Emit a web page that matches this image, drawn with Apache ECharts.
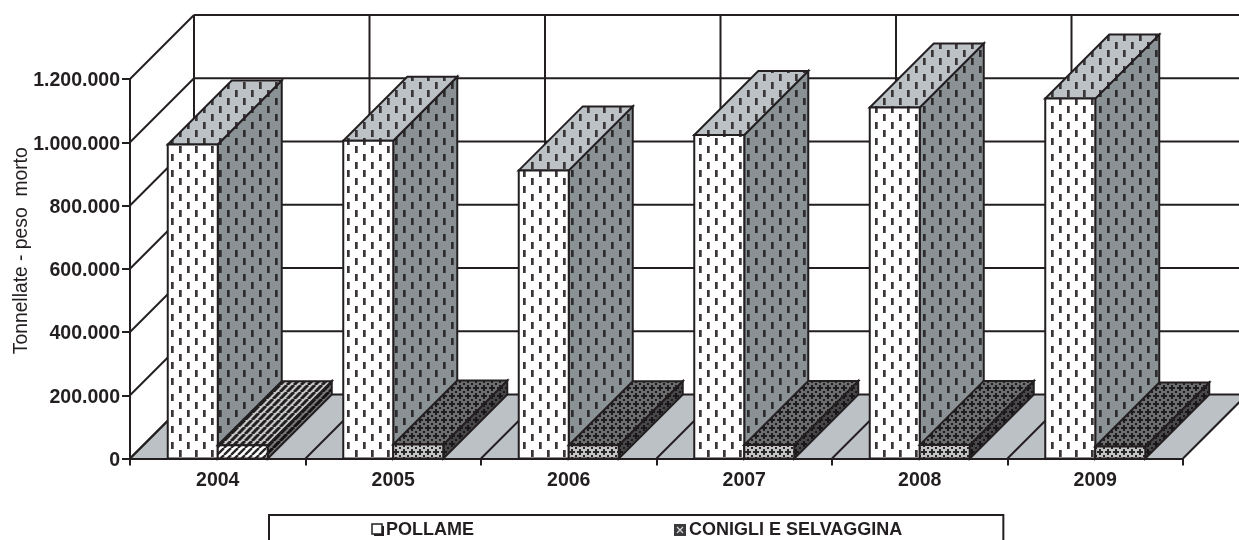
<!DOCTYPE html>
<html>
<head>
<meta charset="utf-8">
<style>html,body{margin:0;padding:0;background:#fff;overflow:hidden}#c{width:1239px;height:540px}</style>
<script src="https://cdn.jsdelivr.net/npm/echarts@6/dist/echarts.min.js"></script>
</head>
<body>
<div id="c"></div>
<script>
const categories = ['2004','2005','2006','2007','2008','2009'];
const pollame = [993000,1005000,911000,1023000,1110000,1138000];
const conigli = [42000,44000,42000,43000,43000,38000];
const yTicks = [0,200000,400000,600000,800000,1000000,1200000];
const seriesNames = ['POLLAME','CONIGLI E SELVAGGINA'];
const axisTitle = 'Tonnellate - peso  morto';

const INK = '#231f20', DEPTH = 64, BAR_FRACTION = 50/175.5, LW = 2;

function tile(w,h,bg,draw){
  const c=document.createElement('canvas');c.width=w;c.height=h;
  const g=c.getContext('2d');g.fillStyle=bg;g.fillRect(0,0,w,h);draw(g);return c;
}
function pat(c){return {image:c,repeat:'repeat'};}
function dashes(bg,col){
  return pat(tile(16,16,bg,g=>{g.fillStyle=col;
    g.fillRect(3,2,2.7,7);
    g.fillRect(11,10,2.7,6);g.fillRect(11,0,2.7,1);}));
}
function stripes(bg,col,lw){
  return pat(tile(7,7,bg,g=>{g.strokeStyle=col;g.lineWidth=lw;
    for(let k=-7;k<=14;k+=7){g.beginPath();g.moveTo(k,7);g.lineTo(k+7,0);g.stroke();}}));
}
function weave(bg,col){
  return pat(tile(8,8,bg,g=>{g.fillStyle=col;
    g.fillRect(3,1,2,6);g.fillRect(1,3,6,2);
    g.fillRect(0,0,1,1);g.fillRect(7,0,1,1);g.fillRect(0,7,1,1);g.fillRect(7,7,1,1);}));
}
const pollFaces = {front:dashes('#ffffff','#3a3637'),top:dashes('#bcc1c6','#3a3637'),side:dashes('#8a9296','#2e2b2c')};
const weaveFaces = {front:weave('#c4c4c4','#2a2728'),top:weave('#6c6d6f','#1f1c1d'),side:weave('#48484a','#1a1718')};
const stripeFaces = {front:stripes('#ffffff','#2a2728',2.4),top:stripes('#c6c6c6','#232021',3),side:stripes('#767676','#151213',3)};

function icon(draw){
  const c=document.createElement('canvas');c.width=14;c.height=14;
  const g=c.getContext('2d');draw(g);return 'image://'+c.toDataURL();
}
const iconPoll = icon(g=>{g.strokeStyle=INK;g.lineWidth=1.5;g.fillStyle='#fff';
  g.strokeRect(1,1,10,10);g.fillStyle=INK;g.fillRect(11,3,2,10);g.fillRect(3,11,10,2);});
const iconCon = icon(g=>{g.fillStyle='#3a3a3c';g.fillRect(0,1,12,12);
  g.strokeStyle='#d8d8d8';g.lineWidth=1.3;g.beginPath();g.moveTo(3,4);g.lineTo(9,10);g.moveTo(9,4);g.lineTo(3,10);g.stroke();});

function box(x0,x1,yTop,yBot,faces){
  const st=f=>({fill:f,stroke:INK,lineWidth:LW,lineJoin:'miter'});
  return [
    {type:'polygon',shape:{points:[[x1,yTop],[x1+DEPTH,yTop-DEPTH],[x1+DEPTH,yBot-DEPTH],[x1,yBot]]},style:st(faces.side)},
    {type:'polygon',shape:{points:[[x0,yTop],[x1,yTop],[x1+DEPTH,yTop-DEPTH],[x0+DEPTH,yTop-DEPTH]]},style:st(faces.top)},
    {type:'polygon',shape:{points:[[x0,yTop],[x1,yTop],[x1,yBot],[x0,yBot]]},style:st(faces.front)}
  ];
}
function line(a,b){return {type:'line',shape:{x1:a[0],y1:a[1],x2:b[0],y2:b[1]},style:{stroke:INK,lineWidth:LW}};}

function renderWalls(params,api){
  const band=api.size([1,0])[0];
  const y0=api.coord([0,0])[1], yT=api.coord([0,yTicks[yTicks.length-1]])[1];
  const xL=api.coord([0,0])[0]-band/2, xR=xL+band*categories.length;
  const kids=[{type:'polygon',shape:{points:[[xL,y0],[xR,y0],[xR+DEPTH,y0-DEPTH],[xL+DEPTH,y0-DEPTH]]},style:{fill:'#bcc1c6'}}];
  yTicks.forEach(v=>{const y=api.coord([0,v])[1];
    kids.push(line([xL,y],[xL+DEPTH,y-DEPTH]));
    kids.push(line([xL+DEPTH,y-DEPTH],[xR+DEPTH,y-DEPTH]));});
  for(let i=0;i<=categories.length;i++){const x=xL+band*i;
    kids.push(line([x+DEPTH,y0-DEPTH],[x+DEPTH,yT-DEPTH]));
    kids.push(line([x,y0],[x+DEPTH,y0-DEPTH]));}
  return {type:'group',children:kids};
}
function renderPollame(params,api){
  const c=api.coord([api.value(0),api.value(1)]),b=api.coord([api.value(0),0]);
  const w=api.size([1,0])[0]*BAR_FRACTION;
  return {type:'group',children:box(c[0]-w,c[0],c[1],b[1],pollFaces)};
}
function renderConigli(params,api){
  const c=api.coord([api.value(0),api.value(1)]),b=api.coord([api.value(0),0]);
  const w=api.size([1,0])[0]*BAR_FRACTION;
  const faces=params.dataIndex===0?stripeFaces:weaveFaces;
  return {type:'group',children:box(c[0],c[0]+w,c[1],b[1],faces)};
}
const txt={fontFamily:'"Liberation Sans",Arial,sans-serif',color:INK};
const chart=echarts.init(document.getElementById('c'),null,{renderer:'canvas'});
chart.setOption({
  animation:false,backgroundColor:'#fff',
  grid:{left:130,right:56,top:79,height:379.5,outerBoundsMode:'none'},
  legend:{
    left:269,top:515,orient:'horizontal',selectedMode:false,
    padding:[6,101,6,102],itemGap:200,itemWidth:14,itemHeight:14,
    borderColor:INK,borderWidth:LW,backgroundColor:'#fff',
    textStyle:{...txt,fontWeight:'bold',fontSize:18,padding:[0,0,0,-4]},
    data:[{name:seriesNames[0],icon:iconPoll},{name:seriesNames[1],icon:iconCon}]
  },
  xAxis:{type:'category',data:categories,boundaryGap:true,z:6,
    axisLine:{lineStyle:{color:INK,width:2}},
    axisTick:{show:true,alignWithLabel:false,length:7,lineStyle:{color:INK,width:LW}},
    axisLabel:{...txt,fontWeight:'bold',fontSize:19.5,margin:12},splitLine:{show:false}},
  yAxis:{type:'value',min:0,max:1200000,interval:200000,z:6,
    name:axisTitle,nameLocation:'middle',nameGap:99,nameRotate:90,nameMoveOverlap:false,
    nameTextStyle:{...txt,fontSize:19.3,padding:[0,0,0,36]},
    axisLine:{show:true,lineStyle:{color:INK,width:LW}},
    axisTick:{show:true,length:8,lineStyle:{color:INK,width:LW}},
    axisLabel:{...txt,fontWeight:'bold',fontSize:19.5,margin:10,
      rich:{v:{...txt,fontWeight:'bold',fontSize:19.5,padding:[4,0,0,0]}},
      formatter:v=>'{v|'+(v===0?'0':String(v).replace(/\B(?=(\d{3})+$)/g,'.'))+'}'},
    splitLine:{show:false}},
  series:[
    {type:'custom',name:'pareti',silent:true,clip:false,z:1,data:[[0,0]],renderItem:renderWalls},
    {type:'custom',name:seriesNames[0],clip:false,z:2,data:categories.map((c,i)=>[i,pollame[i]]),renderItem:renderPollame,itemStyle:{color:'#ffffff'},encode:{x:0,y:1}},
    {type:'custom',name:seriesNames[1],clip:false,z:3,data:categories.map((c,i)=>[i,conigli[i]]),renderItem:renderConigli,itemStyle:{color:'#4e4e50'},encode:{x:0,y:1}}
  ]
});
</script>
</body>
</html>
